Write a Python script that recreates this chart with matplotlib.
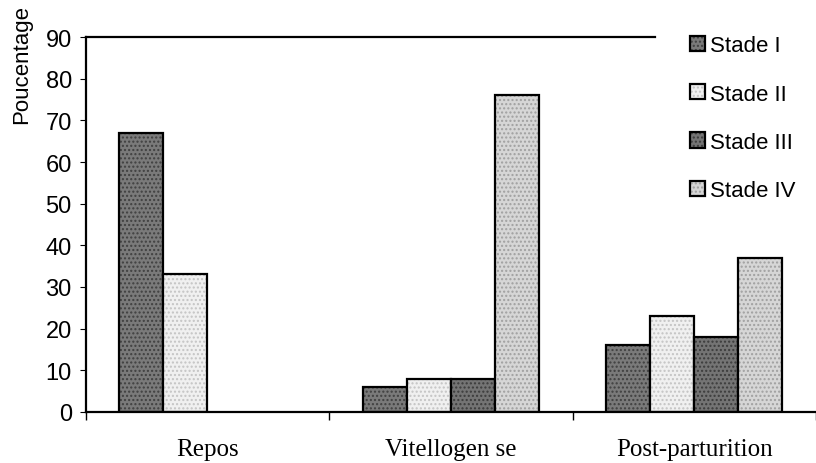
import matplotlib
matplotlib.use("Agg")
import matplotlib.pyplot as plt
import numpy as np
from matplotlib.legend_handler import HandlerTuple

plt.rcParams["font.family"] = ["Liberation Sans", "DejaVu Sans"]

# data
phases = ["Repos", "Vitellogen se", "Post-parturition"]
stades = ["Stade I", "Stade II", "Stade III", "Stade IV"]
stade_1 = [67, 6, 16]
stade_2 = [33, 8, 23]
stade_3 = [0, 8, 18]
stade_4 = [0, 76, 37]
series = [stade_1, stade_2, stade_3, stade_4]

fills = ["#7a7a7a", "#f0f0f0", "#747474", "#d6d6d6"]
dots = ["#404040", "#c4c4c4", "#3c3c3c", "#a0a0a0"]

fig = plt.figure(figsize=(8.16, 4.64), dpi=100)
ax = fig.add_axes([0.105, 0.110, 0.895, 0.808])

x = np.arange(len(phases)) + 0.5
w = 0.181
handles = []
for i, vals in enumerate(series):
    pos = x + (i - 1.5) * w
    mask = [v > 0 for v in vals]
    p = [pp for pp, m in zip(pos, mask) if m]
    v = [vv for vv, m in zip(vals, mask) if m]
    b1 = ax.bar(p, v, w, color=fills[i], hatch="....", edgecolor=dots[i], linewidth=0)
    b2 = ax.bar(p, v, w, fill=False, edgecolor="black", linewidth=1.6)
    handles.append((b1.patches[0], b2.patches[0]))

ax.set_xlim(0, 3)
ax.set_ylim(0, 90)
ax.set_yticks(range(0, 91, 10))
ax.set_xticks([0, 1, 2, 3])
ax.set_xticklabels([])
ax.tick_params(axis="y", labelsize=17, length=4, width=0.8, pad=6)
ax.tick_params(axis="x", length=6, width=1)
for s in ["top", "right"]:
    ax.spines[s].set_visible(False)
ax.spines["left"].set_linewidth(1.6)
ax.spines["bottom"].set_linewidth(1.6)
ax.axhline(90, xmax=0.78, color="black", linewidth=1.6, clip_on=False)

for xi, name in zip(x, phases):
    ax.text(xi, -0.1, name, transform=ax.get_xaxis_transform(), ha="center", va="center",
            fontsize=18, family="Liberation Serif")

fig.text(0.027, 0.99, "Poucentage", rotation=90, va="top", ha="center", fontsize=16)

leg = fig.legend(handles, stades, loc="upper left", bbox_to_anchor=(0.8456, 0.922),
                 frameon=False, fontsize=16, handlelength=0.68, handleheight=0.68,
                 handletextpad=0.2, labelspacing=1.23, borderpad=0, borderaxespad=0,
                 handler_map={tuple: HandlerTuple(ndivide=1)})

fig.savefig("out.png", dpi=100)
